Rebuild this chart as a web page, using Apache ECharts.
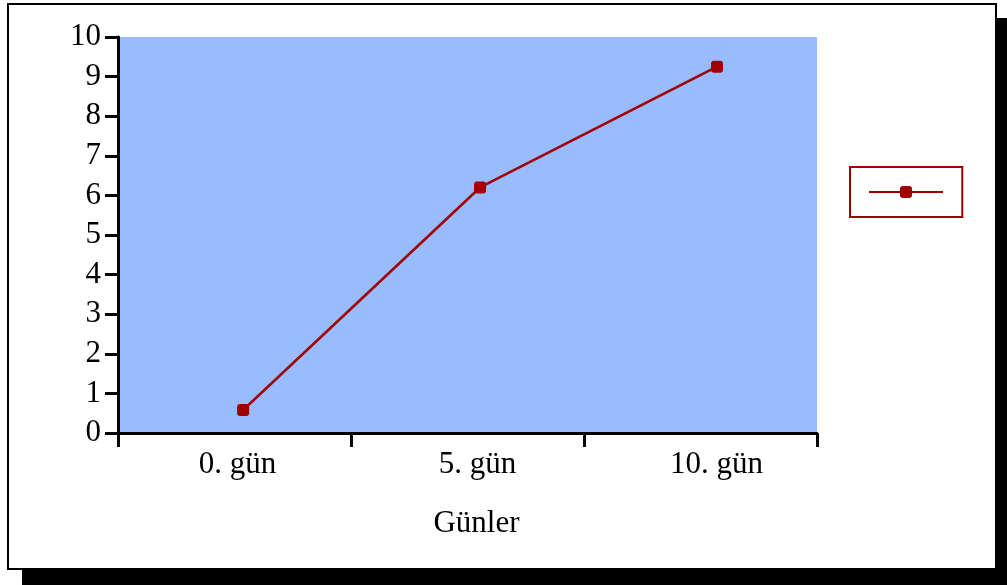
<!DOCTYPE html>
<html><head><meta charset="utf-8">
<script src="https://cdn.jsdelivr.net/npm/echarts@6/dist/echarts.min.js"></script>
<style>html,body{margin:0;padding:0;background:#fff}#c{width:1007px;height:585px}</style>
</head><body><div id="c"></div>
<script>
const categories = ['0. gün', '5. gün', '10. gün'];
const days = [0, 5, 10];
const values = [0.58, 6.2, 9.25];
const yTicks = [0, 10, 1];
const xTitle = 'Günler';
const seriesName = ' ';

const chart = echarts.init(document.getElementById('c'), null, {renderer: 'canvas'});
const font = '"Liberation Serif", "Times New Roman", serif';
const lblStyle = (pad) => ({fontFamily: font, fontSize: 31, color: '#000', padding: [0, 0, 0, pad]});
chart.setOption({
  animation: false,
  backgroundColor: '#fff',
  graphic: [
    {type: 'rect', z: -10, shape: {x: 22, y: 18, width: 985, height: 567}, style: {fill: '#000'}},
    {type: 'rect', z: -9, shape: {x: 8, y: 4, width: 988, height: 565}, style: {fill: '#fff', stroke: '#000', lineWidth: 2}}
  ],
  grid: {left: 118, right: 190, top: 37, bottom: 152, show: true, backgroundColor: '#99BBFF', borderWidth: 0, containLabel: false},
  legend: {
    show: true, left: 850, top: 167, orient: 'vertical',
    data: [seriesName],
    itemWidth: 74, itemHeight: 15,
    padding: [19, 14, 19, 18], itemGap: 0,
    borderColor: '#A00000', borderWidth: 2,
    textStyle: {fontSize: 1, color: 'transparent'}
  },
  xAxis: [{
    type: 'category', data: categories, boundaryGap: true,
    name: xTitle, nameLocation: 'middle', nameGap: 75,
    nameTextStyle: {fontFamily: font, fontSize: 31, color: '#000', padding: [0, 0, 0, 18]},
    axisLine: {lineStyle: {color: '#000', width: 3}},
    axisTick: {show: true, length: 14, lineStyle: {color: '#000', width: 3}},
    axisLabel: {
      margin: 16,
      formatter: (v, i) => `{l${i}|${v}}`,
      rich: {l0: lblStyle(6), l1: lblStyle(20), l2: lblStyle(32)}
    }
  }, {
    type: 'value', show: false, min: -2.64, max: 12.11, position: 'bottom'
  }],
  yAxis: {
    type: 'value', min: yTicks[0], max: yTicks[1], interval: yTicks[2],
    axisLine: {show: true, onZero: false, lineStyle: {color: '#000', width: 3}},
    axisTick: {show: true, length: 13, lineStyle: {color: '#000', width: 3}},
    splitLine: {show: false},
    axisLabel: {fontFamily: font, fontSize: 31, color: '#000', margin: 17}
  },
  series: [{
    name: seriesName, type: 'line', xAxisIndex: 1,
    data: days.map((d, i) => [d, values[i]]),
    symbol: 'roundRect', symbolSize: 12,
    lineStyle: {color: '#A00000', width: 2.5},
    itemStyle: {color: '#A00000'}
  }]
});
</script></body></html>
